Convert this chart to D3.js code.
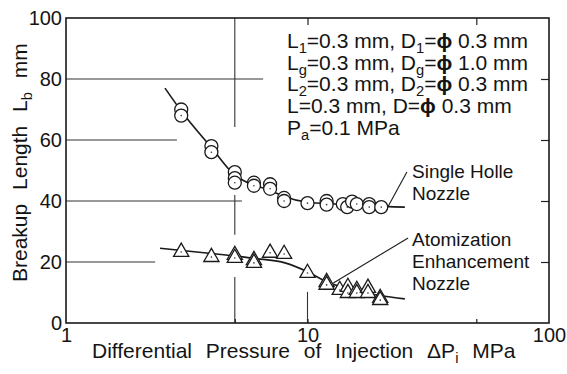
<!DOCTYPE html>
<html>
<head>
<meta charset="utf-8">
<script src="https://cdn.jsdelivr.net/npm/d3@7"></script>
<style>
    body { margin: 0; background: #fff; }
    #chart { width: 567px; height: 374px; }
    text { font-family: "Liberation Sans", Arial, Helvetica, sans-serif; fill: #141414; }
</style>
</head>
<body>
<div id="chart"></div>
<script>
// Single hole nozzle (circles)
const singlePressure = [3, 3, 4, 4, 5, 5, 5, 6, 6, 7, 7, 8, 8, 10, 12, 12, 14, 14.6, 15.3, 16, 18, 18, 20.2];
const singleLength = [70, 68, 58, 56, 49.5, 47.5, 46, 46, 45, 45.5, 44, 41, 40, 39.3, 40, 38.8, 39, 38, 39.8, 39, 39, 38, 38];

// Atomization enhancement nozzle (triangles)
const atomPressure = [3, 4, 5, 5, 6, 6, 7, 8, 10, 12, 12, 13.6, 14.7, 14.7, 16, 16, 17.8, 17.8, 20, 20];
const atomLength = [23.3, 21.6, 22.3, 21.3, 20.6, 19.7, 23, 22.6, 16.4, 13.4, 12.5, 10.8, 11.8, 9.8, 10.8, 9.8, 11.5, 9.8, 8.2, 7.5];

// fitted curves as drawn in the figure
const singleCurveP = [2.57, 3, 4, 5, 5.5, 7, 8, 10, 13, 18, 25.3];
const singleCurveL = [77, 69.5, 57.5, 48.5, 46.5, 43.5, 41.5, 39.6, 39, 38.4, 38];
const atomCurveP = [2.45, 4, 5, 6, 8, 10, 12, 15, 20, 25.3];
const atomCurveL = [24.5, 22.8, 22, 21.2, 19.8, 16.8, 13.5, 11, 9, 7.9];

// ticks
const xTickLabels = [1, 10, 100];
const xMinorTicks = [5, 10, 50];
const yTickValues = [0, 20, 40, 60, 80, 100];

class BreakupVis {
    constructor(_parentElement) {
        this.parentElement = _parentElement;
        this.initVis();
    }

    initVis() {
        let vis = this;

        vis.margin = { top: 18, right: 18, bottom: 51, left: 66 };
        vis.width = 567 - vis.margin.left - vis.margin.right;
        vis.height = 374 - vis.margin.top - vis.margin.bottom;

        vis.root = d3.select("#" + vis.parentElement).append("svg")
            .attr("width", 567)
            .attr("height", 374);

        vis.svg = vis.root.append("g")
            .attr("transform", "translate(" + vis.margin.left + "," + vis.margin.top + ")");

        vis.x = d3.scaleLog().domain([1, 100]).range([0, vis.width]);
        vis.y = d3.scaleLinear().domain([0, 100]).range([vis.height, 0]);

        vis.drawGrid();
        vis.drawAxes();
        vis.drawData();
        vis.drawText();
    }

    drawGrid() {
        let vis = this;
        let grid = vis.svg.append("g").attr("class", "grid")
            .attr("stroke", "#333").attr("stroke-width", 1.1);

        // partial gridlines, broken where text and data sit
        const hSegs = [[80, 1, 6.55], [60, 1, 2.88], [40, 1, 5.35], [20, 1, 2.34]];
        const vSegs = [[5, 100, 64.3], [5, 42, 28.9], [5, 15.1, 0], [10, 10.2, 0]];

        grid.selectAll(".h").data(hSegs).enter().append("line")
            .attr("x1", d => vis.x(d[1])).attr("x2", d => vis.x(d[2]))
            .attr("y1", d => vis.y(d[0])).attr("y2", d => vis.y(d[0]));

        grid.selectAll(".v").data(vSegs).enter().append("line")
            .attr("x1", d => vis.x(d[0])).attr("x2", d => vis.x(d[0]))
            .attr("y1", d => vis.y(d[1])).attr("y2", d => vis.y(d[2]));
    }

    drawAxes() {
        let vis = this;

        // labels
        let xAxis = d3.axisBottom(vis.x).tickValues(xTickLabels).tickSize(0).tickPadding(5)
            .tickFormat(d3.format("d"));
        let yAxis = d3.axisLeft(vis.y).tickValues(yTickValues).tickSize(0).tickPadding(4);

        let gx = vis.svg.append("g").attr("transform", "translate(0," + vis.height + ")").call(xAxis);
        let gy = vis.svg.append("g").call(yAxis);
        [gx, gy].forEach(g => {
            g.select(".domain").remove();
            g.selectAll("text").attr("font-size", 20).attr("font-family", null).attr("fill", "#141414");
        });

        // inward ticks on the frame
        let tickStyle = g => {
            g.select(".domain").remove();
            g.selectAll("text").remove();
            g.selectAll("line").attr("stroke", "#222").attr("stroke-width", 1.2);
        };
        vis.svg.append("g").attr("transform", "translate(0," + vis.height + ")")
            .call(d3.axisBottom(vis.x).tickValues(xMinorTicks).tickSize(-4)).call(tickStyle);
        vis.svg.append("g")
            .call(d3.axisTop(vis.x).tickValues([10, 50]).tickSize(-7)).call(tickStyle);
        vis.svg.append("g").attr("transform", "translate(" + vis.width + ",0)")
            .call(d3.axisRight(vis.y).tickValues([20, 40, 60, 80]).tickSize(-8)).call(tickStyle);

        // frame
        vis.svg.append("rect")
            .attr("width", vis.width).attr("height", vis.height)
            .attr("fill", "none").attr("stroke", "#1a1a1a").attr("stroke-width", 1.6);
    }

    drawData() {
        let vis = this;

        const line = d3.line()
            .x(d => vis.x(d[0]))
            .y(d => vis.y(d[1]))
            .curve(d3.curveMonotoneX);

        let curves = [
            d3.zip(singleCurveP, singleCurveL),
            d3.zip(atomCurveP, atomCurveL)
        ];
        vis.svg.selectAll(".fit").data(curves).enter().append("path")
            .attr("class", "fit")
            .attr("fill", "none")
            .attr("stroke", "#1a1a1a")
            .attr("stroke-width", 1.6)
            .attr("d", d => line(d));

        // triangles
        let tri = d3.symbol(d3.symbolTriangle, 100);
        let atom = vis.svg.selectAll(".tri").data(d3.zip(atomPressure, atomLength)).enter().append("g")
            .attr("class", "tri")
            .attr("transform", d => "translate(" + vis.x(d[0]) + "," + vis.y(d[1]) + ")");
        atom.append("path").attr("d", tri)
            .attr("fill", "#fff").attr("stroke", "#1a1a1a").attr("stroke-width", 1.3);
        atom.append("circle").attr("r", 0.8).attr("fill", "#333");

        // circles
        let single = vis.svg.selectAll(".circ").data(d3.zip(singlePressure, singleLength)).enter().append("g")
            .attr("class", "circ")
            .attr("transform", d => "translate(" + vis.x(d[0]) + "," + vis.y(d[1]) + ")");
        single.append("circle").attr("r", 6.5)
            .attr("fill", "#fff").attr("stroke", "#1a1a1a").attr("stroke-width", 1.3);
        single.append("circle").attr("r", 0.8).attr("fill", "#333");

        // leader lines to the labels
        const leaders = [[[21.5, 38], [25.8, 49.5]], [[12.8, 13.1], [26.1, 27.9]]];
        vis.svg.selectAll(".leader").data(leaders).enter().append("line")
            .attr("stroke", "#1a1a1a").attr("stroke-width", 1.1)
            .attr("x1", d => vis.x(d[0][0])).attr("y1", d => vis.y(d[0][1]))
            .attr("x2", d => vis.x(d[1][0])).attr("y2", d => vis.y(d[1][1]));
    }

    richText(sel, parts) {
        // parts: [text, "sub" | "bold"]
        let shifted = false;
        parts.forEach(p => {
            let t = sel.append("tspan").text(p[0]);
            if (p[1] === "sub") {
                t.attr("font-size", "70%").attr("dy", 5);
                shifted = true;
            } else {
                if (shifted) { t.attr("dy", -5); shifted = false; }
                if (p[1] === "bold") t.attr("font-weight", "bold");
            }
        });
    }

    drawText() {
        let vis = this;

        // condition block
        const phi = ["\u03D5", "bold"];
        const legendLines = [
            [["L"], ["1", "sub"], ["=0.3 mm, D"], ["1", "sub"], ["="], phi, [" 0.3 mm"]],
            [["L"], ["g", "sub"], ["=0.3 mm, D"], ["g", "sub"], ["="], phi, [" 1.0 mm"]],
            [["L"], ["2", "sub"], ["=0.3 mm, D"], ["2", "sub"], ["="], phi, [" 0.3 mm"]],
            [["L=0.3 mm, D="], phi, [" 0.3 mm"]],
            [["P"], ["a", "sub"], ["=0.1 MPa"]]
        ];
        legendLines.forEach((parts, i) => {
            let t = vis.root.append("text")
                .attr("x", 287).attr("y", 48 + i * 21.7)
                .attr("font-size", 21);
            vis.richText(t, parts);
        });

        // series labels
        const labels = [
            { lines: ["Single Holle", "Nozzle"], y: 178 },
            { lines: ["Atomization", "Enhancement", "Nozzle"], y: 246 }
        ];
        labels.forEach(l => {
            l.lines.forEach((s, i) => {
                vis.root.append("text")
                    .attr("x", 412).attr("y", l.y + i * 22)
                    .attr("font-size", 19)
                    .text(s);
            });
        });

        // axis titles
        let xt = vis.root.append("text")
            .attr("x", 92).attr("y", 358)
            .attr("font-size", 21)
            .attr("word-spacing", 8);
        vis.richText(xt, [["Differential Pressure of Injection  \u0394P"], ["i", "sub"], [" MPa"]]);

        let yt = vis.root.append("text")
            .attr("transform", "translate(27,282) rotate(-90)")
            .attr("font-size", 21)
            .attr("word-spacing", 8);
        vis.richText(yt, [["Breakup Length  L"], ["b", "sub"], [" mm"]]);
    }
}

new BreakupVis("chart");
</script>
</body>
</html>
